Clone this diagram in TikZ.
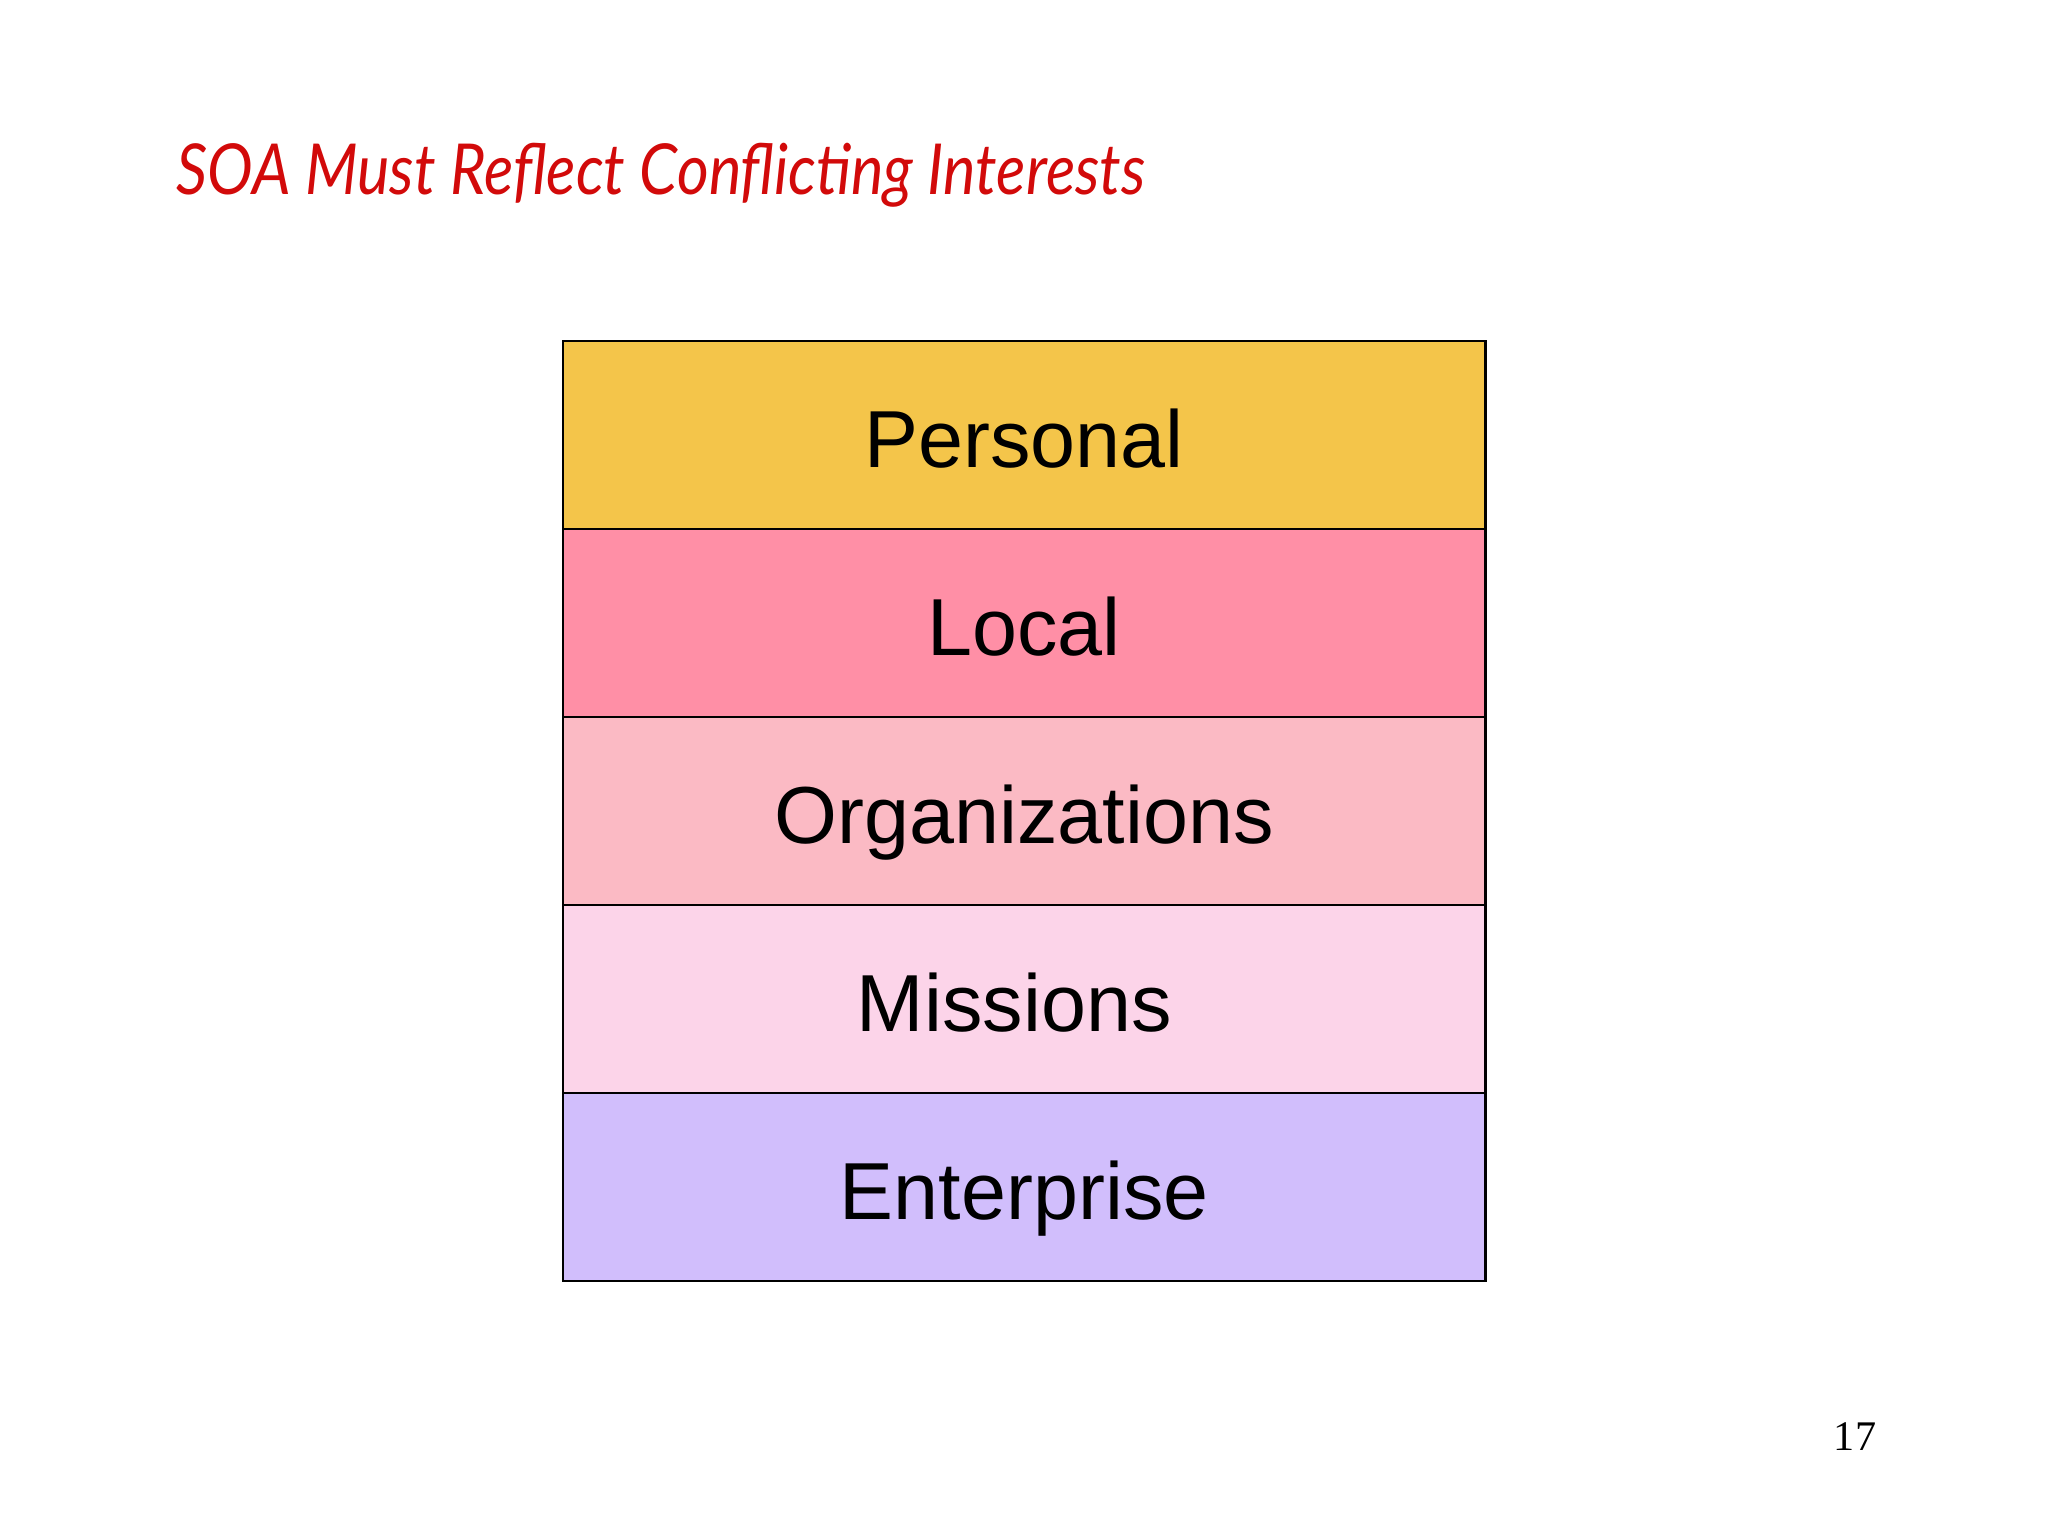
\documentclass[tikz,border=0pt]{standalone}
\usepackage{fontspec}
\setmainfont{Liberation Serif}
\setsansfont{Liberation Sans}
\newfontfamily\titlefont[FakeStretch=0.87]{Lato}
\usetikzlibrary{positioning}
\definecolor{titlered}{RGB}{210,10,10}
\definecolor{personalc}{RGB}{244,197,74}
\definecolor{localc}{RGB}{255,143,166}
\definecolor{orgc}{RGB}{251,186,196}
\definecolor{missionc}{RGB}{252,212,233}
\definecolor{enterc}{RGB}{209,190,252}
\tikzset{
	layer/.style={draw, line width=0.6pt, minimum width=9.22cm, minimum height=1.878cm,
		inner sep=0pt, outer sep=0pt, text height=0.66cm, text depth=0pt,
		font=\sffamily\fontsize{23}{28}\selectfont},
}

\begin{document}
\begin{tikzpicture}[x=0.01cm,y=-0.01cm]
	\useasboundingbox (0,0) rectangle (2048,1536);
	\fill[white] (0,0) rectangle (2048,1536);
	\node[anchor=base west, text=titlered, font=\titlefont\itshape\fontsize{20}{24}\selectfont] (title) at (164,194)
		{SOA Must Reflect Conflicting Interests};
	\node[layer, fill=personalc, anchor=north west] (personal) at (563,341) {Personal};
	\node[layer, fill=localc, below=0pt of personal] (local) {Local};
	\node[layer, fill=orgc, below=0pt of local] (org) {Organizations};
	\node[layer, fill=missionc, below=0pt of org] (mission) {\hspace*{-0.2cm}Missions};
	\node[layer, fill=enterc, below=0pt of mission] (enter) {Enterprise};
	\node[font=\fontsize{12}{14}\selectfont] (pagenum) at (1855,1437) {17};
\end{tikzpicture}
\end{document}
